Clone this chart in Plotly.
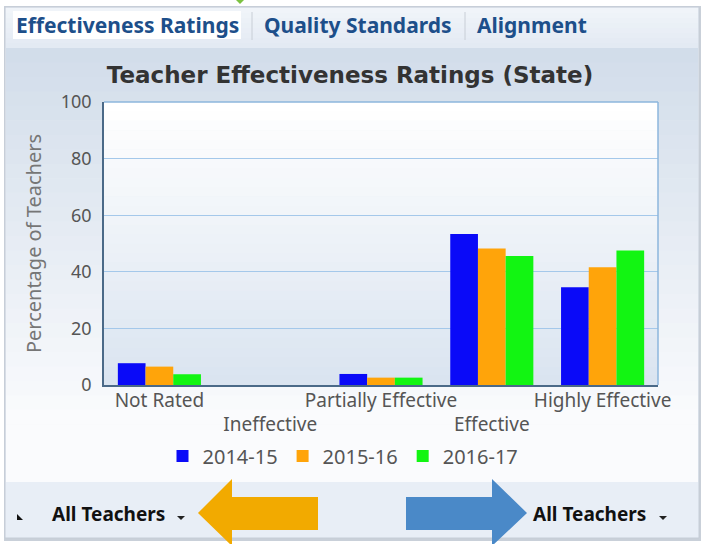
import plotly.graph_objects as go

categories = ["Not Rated", "Ineffective", "Partially Effective", "Effective", "Highly Effective"]
tick_labels = ["Not Rated", "<br>Ineffective", "Partially Effective", "<br>Effective", "Highly Effective"]
series_names = ["2014-15", "2015-16", "2016-17"]
values_2014 = [7.7, 0, 3.9, 53.4, 34.5]
values_2015 = [6.5, 0, 2.6, 48.2, 41.6]
values_2016 = [3.8, 0, 2.6, 45.6, 47.5]
y_ticks = [0, 20, 40, 60, 80, 100]
tab_labels = ["Effectiveness Ratings", "Quality Standards", "Alignment"]
selector_label = "All Teachers"

W, H = 702, 544
L, R, T, B = 104, 658, 102, 385

def px(x):
    return (x - L) / (R - L)

def py(y):
    return (B - y) / (B - T)

def lerp(c1, c2, t):
    a = [int(c1[i:i + 2], 16) for i in (1, 3, 5)]
    b = [int(c2[i:i + 2], 16) for i in (1, 3, 5)]
    return "#%02x%02x%02x" % tuple(round(a[k] + (b[k] - a[k]) * t) for k in range(3))

colors = ["#0a0af8", "#ffa40a", "#12f512"]

fig = go.Figure()
for name, vals, c in zip(series_names, [values_2014, values_2015, values_2016], colors):
    fig.add_trace(go.Bar(x=categories, y=vals, name=name,
                         marker=dict(color=c, line=dict(width=0))))

shapes = []
# outer panel
shapes.append(dict(type="rect", xref="paper", yref="paper", x0=px(4), x1=px(701), y0=py(541), y1=py(6),
                   fillcolor="#c9d0d9", line=dict(width=0), layer="below"))
shapes.append(dict(type="rect", xref="paper", yref="paper", x0=px(5), x1=px(699), y0=py(538), y1=py(7),
                   fillcolor="#e9eff7", line=dict(color="#c5ccd6", width=1), layer="below"))
# tab bar gradient
n = 8
for i in range(n):
    y0 = 8 + (48 - 8) * i / n
    y1 = 8 + (48 - 8) * (i + 1) / n
    shapes.append(dict(type="rect", xref="paper", yref="paper", x0=px(6), x1=px(698), y0=py(y1), y1=py(y0),
                       fillcolor=lerp("#f0f4f9", "#e3eaf3", i / (n - 1)), line=dict(width=0), layer="below"))
# chart panel gradient
n = 30
for i in range(n):
    y0 = 48 + (482 - 48) * i / n
    y1 = 48 + (482 - 48) * (i + 1) / n + 0.5
    t = i / (n - 1)
    shapes.append(dict(type="rect", xref="paper", yref="paper", x0=px(6), x1=px(698), y0=py(y1), y1=py(y0),
                       fillcolor=lerp("#d2ddea", "#fafbfd", min(1, t * 1.15)), line=dict(width=0), layer="below"))
# bottom strip
shapes.append(dict(type="rect", xref="paper", yref="paper", x0=px(6), x1=px(698), y0=py(537), y1=py(482),
                   fillcolor="#e8eef6", line=dict(width=0), layer="below"))
# plot area gradient
n = 30
for i in range(n):
    y0 = T + (B - T) * i / n
    y1 = T + (B - T) * (i + 1) / n + 0.5
    shapes.append(dict(type="rect", xref="paper", yref="paper", x0=0, x1=1, y0=py(min(B, y1)), y1=py(y0),
                       fillcolor=lerp("#ffffff", "#dae4f0", i / (n - 1)), line=dict(width=0), layer="below"))
# plot border top/right
shapes.append(dict(type="line", xref="paper", yref="paper", x0=0, x1=1, y0=1, y1=1,
                   line=dict(color="#8db6dc", width=1.5)))
shapes.append(dict(type="line", xref="paper", yref="paper", x0=1, x1=1, y0=0, y1=1,
                   line=dict(color="#8db6dc", width=1.5)))
# active tab background
shapes.append(dict(type="rect", xref="paper", yref="paper", x0=px(13), x1=px(241), y0=py(39), y1=py(11),
                   fillcolor="#ffffff", line=dict(width=0), layer="below"))
# tab separators
for sx in (252, 465):
    shapes.append(dict(type="line", xref="paper", yref="paper", x0=px(sx), x1=px(sx), y0=py(40), y1=py(12),
                       line=dict(color="#c8ced6", width=1)))
# small green mark at top
def path(points):
    return "M " + " L ".join("%f,%f" % (px(x), py(y)) for x, y in points) + " Z"

shapes.append(dict(type="path", xref="paper", yref="paper",
                   path=path([(236, 0), (244, 0), (240, 4)]), fillcolor="#7cc241", line=dict(width=0)))
# arrows
shapes.append(dict(type="path", xref="paper", yref="paper",
                   path=path([(198, 513), (232, 479), (232, 497), (318, 497), (318, 530), (232, 530), (232, 546)]),
                   fillcolor="#f2aa00", line=dict(width=0)))
shapes.append(dict(type="path", xref="paper", yref="paper",
                   path=path([(527, 513), (492, 479), (492, 497), (406, 497), (406, 530), (492, 530), (492, 546)]),
                   fillcolor="#4a89c8", line=dict(width=0)))
# dropdown triangles
for tx in (181, 663):
    shapes.append(dict(type="path", xref="paper", yref="paper",
                       path=path([(tx - 4, 516), (tx + 4, 516), (tx, 520)]),
                       fillcolor="#222222", line=dict(width=0)))
# resize grip
shapes.append(dict(type="path", xref="paper", yref="paper",
                   path=path([(17, 514), (17, 520), (23, 520)]), fillcolor="#111111", line=dict(width=0)))

annotations = []
tab_x = [14, 262, 475]
for lbl, tx in zip(tab_labels, tab_x):
    annotations.append(dict(text="<b>%s</b>" % lbl, x=px(tx), y=py(25), xref="paper", yref="paper",
                            xanchor="left", yanchor="middle", showarrow=False,
                            font=dict(family="Noto Sans", size=21, color="#1d4f8a")))
for ax in (50, 531):
    annotations.append(dict(text="<b>%s</b>" % selector_label, x=px(ax), y=py(514), xref="paper", yref="paper",
                            xanchor="left", yanchor="middle", showarrow=False,
                            font=dict(family="Noto Sans", size=19, color="#111111")))

fig.update_layout(
    width=W, height=H,
    margin=dict(l=L, r=W - R, t=T, b=H - B, pad=0, autoexpand=False),
    paper_bgcolor="#ffffff",
    plot_bgcolor="rgba(0,0,0,0)",
    barmode="group", bargap=0.25, bargroupgap=0,
    title=dict(text="<b>Teacher Effectiveness Ratings (State)</b>", x=px(350), xref="paper", xanchor="center",
               y=1 - 75 / H, yanchor="middle",
               font=dict(family="DejaVu Sans", size=23, color="#333333")),
    showlegend=True,
    legend=dict(orientation="h", x=px(343), xanchor="center", y=py(456), yanchor="middle",
                font=dict(family="Noto Sans", size=20, color="#555555"), bgcolor="rgba(0,0,0,0)",
                itemwidth=30, traceorder="normal"),
    xaxis=dict(tickmode="array", tickvals=categories, ticktext=tick_labels, showgrid=False,
               showline=True, linecolor="#4b6a88", linewidth=1.5, ticks="", tickangle=0, automargin=False,
               ticklabelstandoff=-3,
               tickfont=dict(family="Noto Sans", size=19, color="#555555")),
    yaxis=dict(range=[0, 100], tickvals=y_ticks, showgrid=True, gridcolor="#a4c8ea", gridwidth=1.2,
               showline=True, linecolor="#4b6a88", linewidth=1.5, ticks="", ticklabelstandoff=7,
               zeroline=False, automargin=False,
               tickfont=dict(family="Noto Sans", size=18, color="#555555"),
               title=dict(text="Percentage of Teachers", standoff=14,
                          font=dict(family="Noto Sans", size=20, color="#767676"))),
    shapes=shapes, annotations=annotations,
)

fig.write_html("out.html", config={"displayModeBar": False},
               post_script="document.body.style.margin='0';document.body.style.padding='0';")
